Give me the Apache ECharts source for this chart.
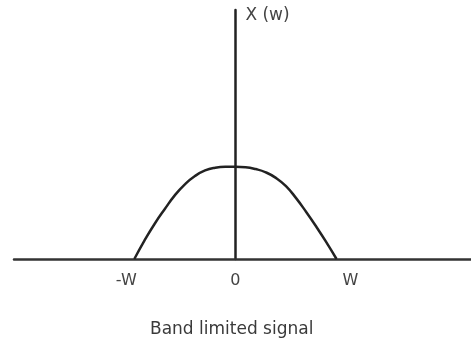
<!DOCTYPE html>
<html>
<head>
<meta charset="utf-8">
<script src="https://cdn.jsdelivr.net/npm/echarts@6/dist/echarts.min.js"></script>
<style>
  html, body { margin: 0; padding: 0; background: #fff; }
  #main { width: 471px; height: 343px; }
</style>
</head>
<body>
<div id="main"></div>
<script>
// 曲线上读出的点 (w 以 W 为单位, 幅值以峰值为单位)
var wValues = [-1.0, -0.9, -0.8, -0.7, -0.6, -0.5, -0.4, -0.3, -0.2, -0.1, 0, 0.1, 0.2, 0.3, 0.4, 0.5, 0.6, 0.7, 0.8, 0.9, 1.0];
var xValues = [0, 0.2, 0.38, 0.54, 0.69, 0.81, 0.9, 0.96, 0.99, 1.0, 1.0, 0.995, 0.975, 0.94, 0.88, 0.79, 0.66, 0.51, 0.35, 0.18, 0];

// 横轴刻度
var tickValues = [-1, 0, 1];
var tickLabels = ['-W', '0', 'W'];

var axisTitle = 'X (w)';
var chartTitle = 'Band limited signal';

var font = 'DejaVu Sans, Verdana, sans-serif';

var points = [];
for (var i = 0; i < wValues.length; i++) {
	points.push([wValues[i], xValues[i]]);
}

var myChart = echarts.init(document.getElementById('main'));

var option = {
	animation: false,
	title: {
		text: chartTitle,
		left: 150,
		top: 321,
		padding: 0,
		textStyle: { fontFamily: font, fontSize: 17, fontWeight: 'normal', color: '#3a3a3a' }
	},
	grid: { left: 14, right: 0, top: 10, bottom: 84 },
	xAxis: {
		type: 'value',
		min: -2.19,
		max: 2.33,
		splitLine: { show: false },
		axisTick: { show: false },
		axisLine: { onZero: true, lineStyle: { color: '#333', width: 2.5 } },
		axisLabel: {
			customValues: tickValues,
			margin: 14,
			fontFamily: font,
			fontSize: 16,
			color: '#444',
			formatter: function (value) {
				var k = tickValues.indexOf(value);
				var txt = tickLabels[k];
				if (k === 0) return '{l|' + txt + '}';
				if (k === 2) return '{r|' + txt + '}';
				return txt;
			},
			rich: {
				l: { fontFamily: font, fontSize: 16, color: '#444', padding: [0, 16, 0, 0] },
				r: { fontFamily: font, fontSize: 16, color: '#444', padding: [0, 0, 0, 28] }
			}
		}
	},
	yAxis: {
		type: 'value',
		min: 0,
		max: 2.7,
		name: axisTitle,
		nameLocation: 'end',
		nameGap: -6,
		nameTextStyle: {
			fontFamily: font, fontSize: 17, color: '#444',
			align: 'left', verticalAlign: 'middle', padding: [0, 0, 0, 10]
		},
		splitLine: { show: false },
		axisTick: { show: false },
		axisLabel: { show: false },
		axisLine: { show: true, onZero: true, lineStyle: { color: '#222', width: 2.5 } }
	},
	series: [{
		type: 'line',
		data: points,
		smooth: 0.5,
		showSymbol: false,
		lineStyle: { color: '#222', width: 2.5 }
	}]
};

myChart.setOption(option, true);
</script>
</body>
</html>
